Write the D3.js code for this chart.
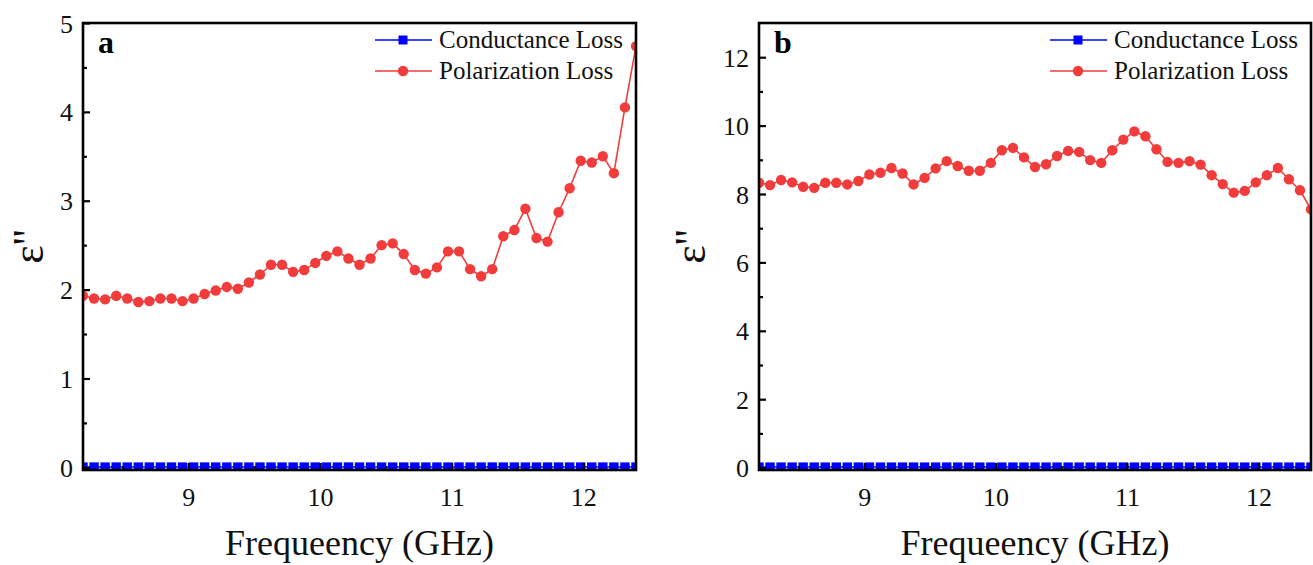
<!DOCTYPE html>
<html>
<head>
<meta charset="utf-8">
<script src="https://cdn.jsdelivr.net/npm/d3@7"></script>
<style>
  body { margin: 0; background: #fff; }
  svg { display: block; font-family: "Liberation Serif", "Times New Roman", serif; }
</style>
</head>
<body>
<svg id="chart" width="1313" height="565"></svg>
<script>
// frequency points (GHz), shared by both panels
const freq = [8.200, 8.284, 8.368, 8.452, 8.536, 8.620, 8.704, 8.788, 8.872, 8.956,
  9.040, 9.124, 9.208, 9.292, 9.376, 9.460, 9.544, 9.628, 9.712, 9.796,
  9.880, 9.964, 10.048, 10.132, 10.216, 10.300, 10.384, 10.468, 10.552, 10.636,
  10.720, 10.804, 10.888, 10.972, 11.056, 11.140, 11.224, 11.308, 11.392, 11.476,
  11.560, 11.644, 11.728, 11.812, 11.896, 11.980, 12.064, 12.148, 12.232, 12.316, 12.400];

// panel a
const polar_a = [1.93, 1.90, 1.89, 1.93, 1.90, 1.86, 1.87, 1.90, 1.90, 1.87,
  1.90, 1.95, 1.99, 2.03, 2.01, 2.08, 2.17, 2.28, 2.28, 2.20,
  2.22, 2.30, 2.38, 2.43, 2.35, 2.28, 2.35, 2.50, 2.52, 2.40,
  2.22, 2.18, 2.25, 2.43, 2.43, 2.23, 2.15, 2.23, 2.60, 2.67,
  2.91, 2.58, 2.54, 2.87, 3.14, 3.45, 3.43, 3.50, 3.31, 4.05, 4.74];
const cond_a = [0.005, 0.005, 0.005, 0.005, 0.005, 0.005, 0.005, 0.005, 0.005, 0.005,
  0.005, 0.005, 0.005, 0.005, 0.005, 0.005, 0.005, 0.005, 0.005, 0.005,
  0.005, 0.005, 0.005, 0.005, 0.005, 0.005, 0.005, 0.005, 0.005, 0.005,
  0.005, 0.005, 0.005, 0.005, 0.005, 0.005, 0.005, 0.005, 0.005, 0.005,
  0.005, 0.005, 0.005, 0.005, 0.005, 0.005, 0.005, 0.005, 0.005, 0.005, 0.005];

// panel b
const polar_b = [8.33, 8.26, 8.41, 8.34, 8.21, 8.18, 8.33, 8.33, 8.28, 8.38,
  8.57, 8.62, 8.76, 8.60, 8.28, 8.47, 8.75, 8.96, 8.82, 8.68,
  8.68, 8.91, 9.28, 9.35, 9.07, 8.79, 8.87, 9.11, 9.26, 9.23,
  8.99, 8.91, 9.28, 9.59, 9.83, 9.69, 9.31, 8.94, 8.91, 8.96,
  8.86, 8.55, 8.29, 8.04, 8.09, 8.34, 8.55, 8.76, 8.43, 8.11, 7.55];
const cond_b = [0.02, 0.02, 0.02, 0.02, 0.02, 0.02, 0.02, 0.02, 0.02, 0.02,
  0.02, 0.02, 0.02, 0.02, 0.02, 0.02, 0.02, 0.02, 0.02, 0.02,
  0.02, 0.02, 0.02, 0.02, 0.02, 0.02, 0.02, 0.02, 0.02, 0.02,
  0.02, 0.02, 0.02, 0.02, 0.02, 0.02, 0.02, 0.02, 0.02, 0.02,
  0.02, 0.02, 0.02, 0.02, 0.02, 0.02, 0.02, 0.02, 0.02, 0.02, 0.02];

const x_ticks = [9, 10, 11, 12];
const x_minor = [8.5, 9.5, 10.5, 11.5];
const y_ticks_a = [0, 1, 2, 3, 4, 5];
const y_minor_a = [0.5, 1.5, 2.5, 3.5, 4.5];
const y_ticks_b = [0, 2, 4, 6, 8, 10, 12];
const y_minor_b = [1, 3, 5, 7, 9, 11];

const legend_labels = ["Conductance Loss", "Polarization Loss"];
const x_title = "Frequeency (GHz)";
const y_title = "\u03b5''";

const red = "#f23c3c";
const blue = "#0000ff";

const svg = d3.select("#chart");

const panels = [
  {
    id: "a", label: "a", polar: polar_a, cond: cond_a,
    left: 83, right: 636, top: 23, bottom: 470,
    ydomain: [-0.03, 5], yticks: y_ticks_a, yminor: y_minor_a,
    legend_x: 375, ylab_x: 43
  },
  {
    id: "b", label: "b", polar: polar_b, cond: cond_b,
    left: 759, right: 1311, top: 23, bottom: 470,
    ydomain: [-0.07, 13], yticks: y_ticks_b, yminor: y_minor_b,
    legend_x: 1050, ylab_x: 705
  }
];

function draw_panel(p) {
  const x = d3.scaleLinear().domain([8.2, 12.4]).range([p.left, p.right]);
  const y = d3.scaleLinear().domain(p.ydomain).range([p.bottom, p.top]);
  const g = svg.append("g");

  g.append("clipPath").attr("id", "clip-" + p.id)
    .append("rect")
    .attr("x", p.left).attr("y", p.top)
    .attr("width", p.right - p.left).attr("height", p.bottom - p.top);

  const plot = g.append("g").attr("clip-path", `url(#clip-${p.id})`);

  // conductance loss: blue squares along zero
  const cond = freq.map((f, i) => ({ f: f, v: p.cond[i] }));
  plot.append("path")
    .datum(cond)
    .attr("fill", "none").attr("stroke", blue).attr("stroke-width", 1.5)
    .attr("d", d3.line().x((d) => x(d.f)).y((d) => y(d.v)));
  plot.selectAll("rect.cond")
    .data(cond).join("rect")
    .attr("class", "cond")
    .attr("x", (d) => x(d.f) - 4.7).attr("y", (d) => y(d.v) - 4.5)
    .attr("width", 9.4).attr("height", 9)
    .attr("fill", blue);

  // polarization loss: red circles
  const polar = freq.map((f, i) => ({ f: f, v: p.polar[i] }));
  plot.append("path")
    .datum(polar)
    .attr("fill", "none").attr("stroke", red).attr("stroke-width", 1.6)
    .attr("d", d3.line().x((d) => x(d.f)).y((d) => y(d.v)));
  plot.selectAll("circle.polar")
    .data(polar).join("circle")
    .attr("class", "polar")
    .attr("cx", (d) => x(d.f)).attr("cy", (d) => y(d.v))
    .attr("r", 5.2)
    .attr("fill", red);

  // axes, ticks pointing in
  const xAxis = g.append("g")
    .attr("transform", `translate(0,${p.bottom})`)
    .call(d3.axisBottom(x).tickValues(x_ticks).tickSizeInner(-7).tickSizeOuter(0).tickPadding(18).tickFormat(d3.format("d")));
  g.append("g")
    .attr("transform", `translate(0,${p.bottom})`)
    .call(d3.axisBottom(x).tickValues(x_minor).tickSizeInner(-4).tickSizeOuter(0).tickFormat(""));
  const yAxis = g.append("g")
    .attr("transform", `translate(${p.left},0)`)
    .call(d3.axisLeft(y).tickValues(p.yticks).tickSizeInner(-7).tickSizeOuter(0).tickPadding(10).tickFormat(d3.format("d")));
  g.append("g")
    .attr("transform", `translate(${p.left},0)`)
    .call(d3.axisLeft(y).tickValues(p.yminor).tickSizeInner(-4).tickSizeOuter(0).tickFormat(""));

  g.selectAll(".domain").remove();
  g.selectAll(".tick line").attr("stroke", "#000").attr("stroke-width", 2.2);
  g.selectAll(".tick text")
    .attr("font-family", "Liberation Serif, Times New Roman, serif")
    .attr("font-size", 26).attr("fill", "#111");
  xAxis.selectAll(".tick text").attr("dy", "0.71em");
  yAxis.selectAll(".tick text").attr("dy", "0.35em");

  // frame
  g.append("rect")
    .attr("x", p.left).attr("y", p.top)
    .attr("width", p.right - p.left).attr("height", p.bottom - p.top)
    .attr("fill", "none").attr("stroke", "#000").attr("stroke-width", 2.6);

  // panel letter
  g.append("text")
    .attr("x", p.left + 15).attr("y", p.top + 30)
    .attr("font-size", 32).attr("font-weight", "bold")
    .text(p.label);

  // legend
  const items = [
    { label: legend_labels[0], color: blue, shape: "square" },
    { label: legend_labels[1], color: red, shape: "circle" }
  ];
  items.forEach((it, i) => {
    const ly = p.top + 17 + i * 31;
    const lg = g.append("g");
    lg.append("line")
      .attr("x1", p.legend_x).attr("x2", p.legend_x + 57)
      .attr("y1", ly).attr("y2", ly)
      .attr("stroke", it.color).attr("stroke-width", 1.6);
    if (it.shape === "square") {
      lg.append("rect")
        .attr("x", p.legend_x + 28 - 4.5).attr("y", ly - 4.5)
        .attr("width", 9).attr("height", 9).attr("fill", it.color);
    } else {
      lg.append("circle")
        .attr("cx", p.legend_x + 28).attr("cy", ly).attr("r", 5.2).attr("fill", it.color);
    }
    lg.append("text")
      .attr("x", p.legend_x + 64).attr("y", ly)
      .attr("dy", "0.32em")
      .attr("font-size", 25).attr("fill", "#111")
      .text(it.label);
  });

  // axis titles
  g.append("text")
    .attr("x", (p.left + p.right) / 2).attr("y", 555)
    .attr("text-anchor", "middle")
    .attr("font-size", 36).attr("fill", "#111")
    .text(x_title);

  g.append("text")
    .attr("transform", `translate(${p.ylab_x},${(p.top + p.bottom) / 2}) rotate(-90)`)
    .attr("text-anchor", "middle")
    .attr("font-size", 44).attr("fill", "#111")
    .text(y_title);
}

panels.forEach(draw_panel);
</script>
</body>
</html>
